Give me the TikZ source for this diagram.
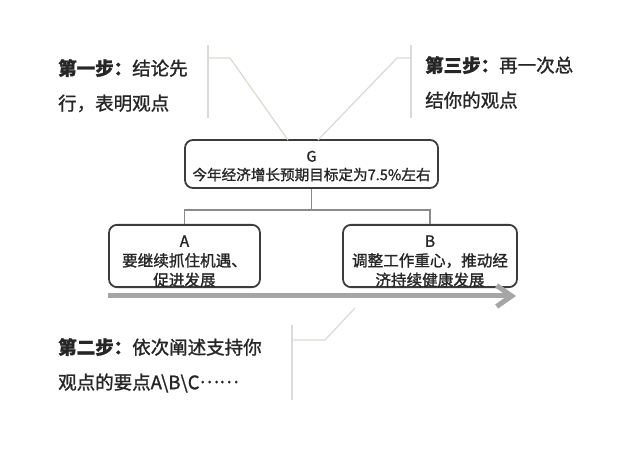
\documentclass[tikz,border=0pt]{standalone}
\usepackage{fontspec}
\setmainfont{Noto Sans CJK SC}[RawFeature={embolden=1.3}]
\usetikzlibrary{arrows.meta}
\definecolor{callcol}{HTML}{DCDAD0}
\definecolor{vertcol}{HTML}{DADADA}
\definecolor{boxcol}{HTML}{3C3C3C}
\definecolor{txtcol}{HTML}{262626}
\definecolor{treecol}{HTML}{8A8A8A}
\definecolor{arrcol}{HTML}{A6A6A6}
\newcommand{\midellipsis}{\raisebox{0.33em}{……}}
\tikzset{
  calltext/.style={font=\fontsize{18.5}{35}\selectfont, align=left, anchor=north west, inner sep=0pt, text=txtcol},
  boxnode/.style={draw=boxcol, line width=1.8pt, rounded corners=8pt, fill=white, align=center, inner sep=0pt, text=txtcol},
  callline/.style={draw=callcol, line width=1.2pt},
  vertline/.style={draw=vertcol, line width=1.2pt},
  treeline/.style={draw=treecol, line width=1.1pt},
  bigarrow/.style={draw=arrcol, line width=5pt, -{Straight Barb[length=15pt,width=21pt]}}
}
\begin{document}
\begin{tikzpicture}[x=1pt,y=-1pt]
\fill[white] (0,0) rectangle (622,457);
\useasboundingbox (0,0) rectangle (622,457);

% boxes
\node[boxnode, minimum width=253pt, minimum height=48pt, font=\fontsize{14.6}{18.5}\selectfont] (G) at (311.5,164)
  {\rule{0pt}{15pt}G\\今年经济增长预期目标定为7.5\%左右};
\node[boxnode, minimum width=151pt, minimum height=62pt, font=\fontsize{15.6}{19.5}\selectfont] (A) at (184.5,256)
  {\rule{0pt}{22pt}A\\要继续抓住机遇、\\促进发展};
\node[boxnode, minimum width=174pt, minimum height=62pt, font=\fontsize{15.6}{19.5}\selectfont] (B) at (430,256)
  {\rule{0pt}{22pt}B\\调整工作重心，推动经\\济持续健康发展};

% tree connectors
\coordinate (j) at (311.5,210);
\draw[treeline] (G.south) -- (j);
\draw[treeline] (j) -| (A.north);
\draw[treeline] (j) -| (B.north);

% big arrow
\coordinate (arS) at (108,296);
\coordinate (arE) at (516,296);
\draw[bigarrow] (arS) -- (arE);

% callout texts
\node[calltext] (s1) at (58,59) {\textbf{第一步：}结论先\\行，表明观点};
\node[calltext] (s3) at (425,56) {\textbf{第三步：}再一次总\\结你的观点};
\node[calltext] (s2) at (58,338) {\textbf{第二步：}依次阐述支持你\\观点的要点A\textbackslash B\textbackslash C\midellipsis};

% callout lines
\coordinate (v1t) at (208,45); \coordinate (v1b) at (208,118);
\coordinate (h1) at (230,58);
\coordinate (g1) at (288,140);
\draw[vertline] (v1t) -- (v1b);
\draw[callline] (v1t |- h1) -- (h1) -- (g1);

\coordinate (v3t) at (411,45); \coordinate (v3b) at (411,118);
\coordinate (h3) at (397,58);
\coordinate (g3) at (318,140);
\draw[vertline] (v3t) -- (v3b);
\draw[callline] (v3t |- h3) -- (h3) -- (g3);

\coordinate (v2t) at (292,325); \coordinate (v2b) at (292,400);
\coordinate (h2) at (325,340);
\coordinate (a2) at (355,308);
\draw[vertline] (v2t) -- (v2b);
\draw[callline] (v2t |- h2) -- (h2) -- (a2);
\end{tikzpicture}
\end{document}
